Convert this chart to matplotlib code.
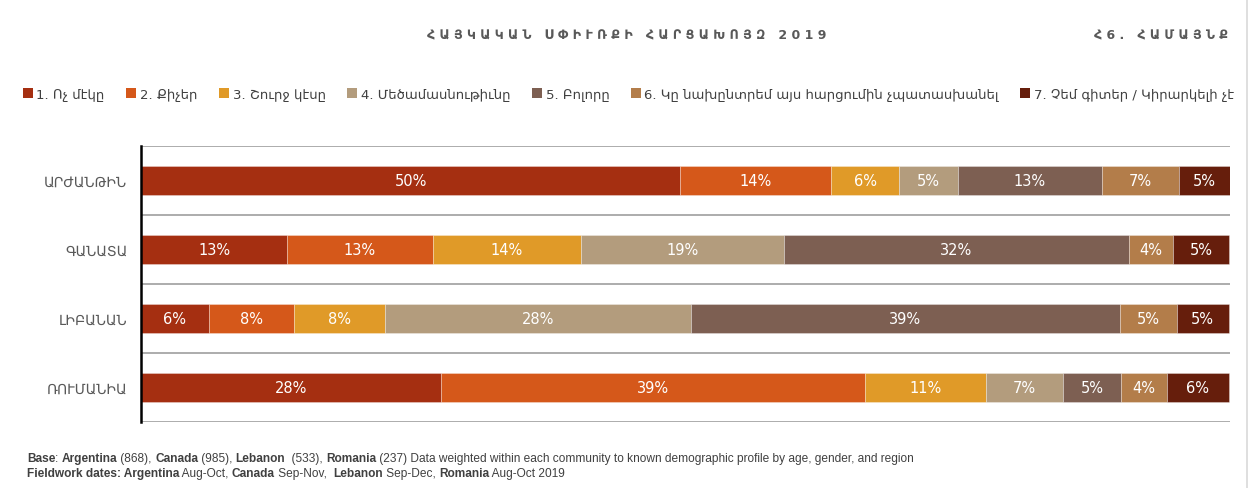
import matplotlib
matplotlib.use('Agg')
import numpy as np
from matplotlib import pyplot as plt
from matplotlib.patches import Patch
from matplotlib.lines import Line2D

plt.rcParams['font.family'] = ['DejaVu Sans']

countries = ['ԱՐԺԱՆԹԻՆ', 'ԳԱՆԱՏԱ', 'ԼԻԲԱՆԱՆ', 'ՌՈՒՄԱՆԻԱ']
answers = [
    '1. Ոչ մէկը',
    '2. Քիչեր',
    '3. Շուրջ կէսը',
    '4. Մեծամասնութիւնը',
    '5. Բոլորը',
    '6. Կը նախընտրեմ այս հարցումին չպատասխանել',
    '7. Չեմ գիտեր / Կիրարկելի չէ',
]
# shares per answer, one value per country (Argentina, Canada, Lebanon, Romania)
ans1 = [49.5, 13.4, 6.2, 27.5]
ans2 = [13.9, 13.4, 7.8, 39.0]
ans3 = [6.2, 13.6, 8.4, 11.1]
ans4 = [5.4, 18.6, 28.1, 7.1]
ans5 = [13.2, 31.7, 39.4, 5.3]
ans6 = [7.1, 4.1, 5.2, 4.2]
ans7 = [4.7, 5.1, 4.8, 5.7]
# printed labels
lab1 = [50, 13, 6, 28]
lab2 = [14, 13, 8, 39]
lab3 = [6, 14, 8, 11]
lab4 = [5, 19, 28, 7]
lab5 = [13, 32, 39, 5]
lab6 = [7, 4, 5, 4]
lab7 = [5, 5, 5, 6]

colors = ['#A52F11', '#D5581A', '#E09A28', '#B39C7D', '#7D5F52', '#B37D4A', '#661E0C']

title = 'ՀԱՅԿԱԿԱՆ ՍՓԻՒՌՔԻ ՀԱՐՑԱԽՈՅԶ 2019'
right_title = 'Հ6. ՀԱՄԱՅՆՔ'


def spaced(s):
    return '   '.join(' '.join(w) for w in s.split(' '))


def rich_text(fig, x, y, parts, size):
    renderer = fig.canvas.get_renderer()
    for text, bold in parts:
        t = fig.text(x, y, text, fontsize=size, color='#404040',
                     fontweight='bold' if bold else 'normal',
                     family=['Liberation Sans'],
                     va='baseline', ha='left')
        bb = t.get_window_extent(renderer=renderer)
        x += bb.width / fig.bbox.width


fig = plt.figure(figsize=(12.56, 4.89), dpi=100)
ax = fig.add_axes([0.1123, 0.135, 0.867, 0.5644])

values = [ans1, ans2, ans3, ans4, ans5, ans6, ans7]
labels = [lab1, lab2, lab3, lab4, lab5, lab6, lab7]
y = np.arange(len(countries))
left = np.zeros(len(countries))
for vals, labs, col in zip(values, labels, colors):
    bars = ax.barh(y, vals, left=left, height=0.43, color=col,
                   edgecolor=(1, 1, 1, 0.35), linewidth=0.6)
    ax.bar_label(bars, labels=[f'{v}%' for v in labs], label_type='center',
                 color='white', fontsize=10.5, family=['DejaVu Sans'])
    left += np.array(vals)

ax.set_xlim(0, 100)
ax.set_ylim(len(countries) - 0.5, -0.5)
ax.set_yticks(y)
ax.set_yticklabels(countries, fontsize=10, color='#595959')
ax.tick_params(axis='y', length=0, pad=10)
ax.set_xticks([])
for b in np.arange(-0.5, len(countries), 1.0):
    ax.axhline(b, color='#A6A6A6', linewidth=1.3, zorder=0)
for s in ['top', 'right', 'bottom']:
    ax.spines[s].set_visible(False)
ax.spines['left'].set_color('black')
ax.spines['left'].set_linewidth(1.8)

fig.text(0.4988, 1 - 36 / 489, spaced(title), ha='center', va='center',
         fontsize=9, fontweight='bold', color='#595959')
fig.text(0.978, 1 - 36 / 489, spaced(right_title), ha='right', va='center',
         fontsize=9, fontweight='bold', color='#595959')

handles = [Patch(facecolor=c, edgecolor='none') for c in colors]
fig.legend(handles, answers, loc='center left', bbox_to_anchor=(0.018, 1 - 95 / 489),
           ncol=7, frameon=False, fontsize=9.5, handlelength=0.75, handleheight=0.75,
           handletextpad=0.3, columnspacing=1.62, borderaxespad=0, borderpad=0,
           labelcolor='#404040')

fig.add_artist(Line2D([1247 / 1256, 1247 / 1256], [0, 1], color='#D9D9D9', linewidth=1.2))

rich_text(fig, 27 / 1256, 1 - 462 / 489, [
    ('Base', True), (': ', False), ('Argentina', True), (' (868), ', False),
    ('Canada', True), (' (985), ', False), ('Lebanon', True), ('  (533), ', False),
    ('Romania', True),
    (' (237) Data weighted within each community to known demographic profile by age, gender, and region', False),
], 8.6)
rich_text(fig, 27 / 1256, 1 - 477 / 489, [
    ('Fieldwork dates: Argentina', True), (' Aug-Oct, ', False), ('Canada', True),
    (' Sep-Nov,  ', False), ('Lebanon', True), (' Sep-Dec, ', False),
    ('Romania', True), (' Aug-Oct 2019', False),
], 8.6)

fig.savefig('out.png', dpi=100)
